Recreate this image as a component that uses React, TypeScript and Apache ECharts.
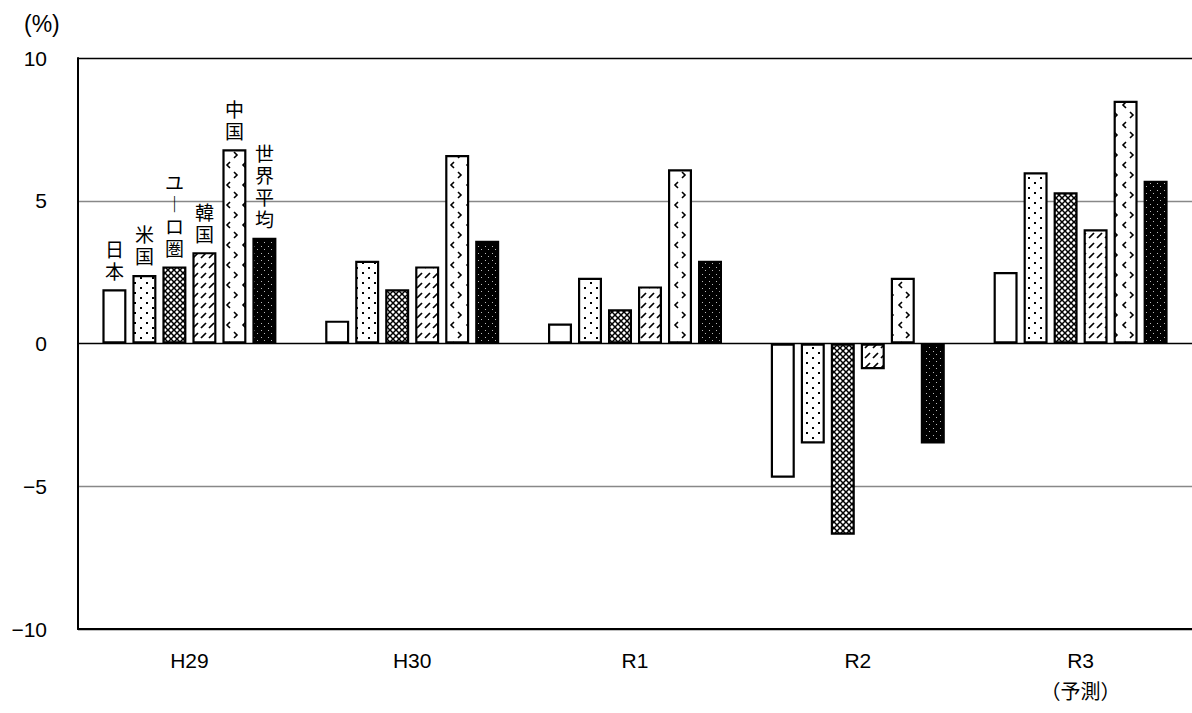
import React, { useEffect, useRef } from "react";
import * as echarts from "echarts";

const categories = ["H29", "H30", "R1", "R2", "R3"];
const seriesNames = ["日本", "米国", "ユーロ圏", "韓国", "中国", "世界平均"];
const japan = [1.9, 0.8, 0.7, -4.7, 2.5];
const usa = [2.4, 2.9, 2.3, -3.5, 6.0];
const euro = [2.7, 1.9, 1.2, -6.7, 5.3];
const korea = [3.2, 2.7, 2.0, -0.9, 4.0];
const china = [6.8, 6.6, 6.1, 2.3, 8.5];
const world = [3.7, 3.6, 2.9, -3.5, 5.7];
const verticalLabels = ["日\n本", "米\n国", "ユ\n︱\nロ\n圏", "韓\n国", "中\n国", "世\n界\n平\n均"];
const yTicks = [-10, -5, 0, 5, 10];

function pat(w: number, h: number, bg: string, draw: (ctx: CanvasRenderingContext2D) => void) {
  const c = document.createElement("canvas");
  c.width = w;
  c.height = h;
  const ctx = c.getContext("2d") as CanvasRenderingContext2D;
  ctx.fillStyle = bg;
  ctx.fillRect(0, 0, w, h);
  ctx.fillStyle = "#000";
  ctx.strokeStyle = "#000";
  draw(ctx);
  return { image: c, repeat: "repeat", imageWidth: w, imageHeight: h } as any;
}

export default function App() {
  const ref = useRef<HTMLDivElement>(null);
  useEffect(() => {
    document.body.style.margin = "0";
    if (!ref.current) return;
    const chart = echarts.init(ref.current, undefined, { renderer: "svg" });

    const fills = [
      "#fff",
      pat(12, 10, "#fff", (ctx) => {
        ctx.fillRect(2, 2, 2, 2);
        ctx.fillRect(8, 7, 2, 2);
      }),
      pat(6, 6, "#fff", (ctx) => {
        ctx.lineWidth = 1.5;
        ctx.beginPath();
        ctx.moveTo(-1, -1);
        ctx.lineTo(7, 7);
        ctx.moveTo(7, -1);
        ctx.lineTo(-1, 7);
        ctx.stroke();
      }),
      pat(8, 10, "#fff", (ctx) => {
        ctx.lineWidth = 1.7;
        ctx.beginPath();
        ctx.moveTo(1, 8);
        ctx.lineTo(6, 3);
        ctx.stroke();
      }),
      pat(16, 20, "#fff", (ctx) => {
        ctx.lineWidth = 1.6;
        ctx.beginPath();
        ctx.moveTo(6, 2);
        ctx.lineTo(3, 5);
        ctx.lineTo(6, 8);
        ctx.moveTo(10, 12);
        ctx.lineTo(13, 15);
        ctx.lineTo(10, 18);
        ctx.stroke();
      }),
      pat(7, 7, "#000", (ctx) => {
        ctx.fillStyle = "#bbb";
        ctx.fillRect(2, 1, 1, 1);
        ctx.fillRect(5, 4, 1, 1);
      }),
    ];

    const values = [japan, usa, euro, korea, china, world];

    const series = values.map((vals, si) => ({
      name: seriesNames[si],
      type: "bar",
      barWidth: 24,
      barGap: "25%",
      itemStyle: { color: fills[si], borderColor: "#000", borderWidth: 2.2 },
      data: vals.map((v, i) =>
        i === 0
          ? {
              value: v,
              label: {
                show: true,
                position: "top",
                distance: 8,
                formatter: verticalLabels[si],
                fontSize: 19,
                lineHeight: 22,
                color: "#000",
                fontFamily: "'Noto Sans CJK JP', sans-serif",
              },
            }
          : v
      ),
    }));

    chart.setOption({
      animation: false,
      backgroundColor: "#fff",
      textStyle: { fontFamily: "'Liberation Sans', 'Noto Sans CJK JP', sans-serif", color: "#000" },
      grid: { left: 78, right: -6, top: 58, bottom: 84, containLabel: false },
      xAxis: {
        type: "category",
        data: categories,
        axisLine: { onZero: false, lineStyle: { color: "#000", width: 2 } },
        axisTick: { show: false },
        axisLabel: {
          margin: 20,
          color: "#000",
          fontSize: 21,
          interval: 0,
          formatter: (v: string) => (v === "R3" ? "{a|R3}\n{b|（予測）}" : "{a|" + v + "}"),
          rich: {
            a: { fontSize: 21, lineHeight: 22, fontFamily: "'Liberation Sans', sans-serif", color: "#000" },
            b: { fontSize: 20, lineHeight: 38, fontFamily: "'Noto Sans CJK JP', sans-serif", color: "#000" },
          },
        },
        splitLine: { show: false },
      },
      yAxis: {
        type: "value",
        min: yTicks[0],
        max: yTicks[yTicks.length - 1],
        interval: 5,
        axisLine: { show: true, lineStyle: { color: "#000", width: 2 } },
        axisTick: { show: false },
        axisLabel: { margin: 31, color: "#000", fontSize: 21, formatter: (v: number) => (v < 0 ? "−" + Math.abs(v) : String(v)) },
        splitLine: { show: true, lineStyle: { color: ["#000", "#888", "#000", "#888", "#000"], width: 1.4 } },
      },
      graphic: [
        {
          type: "text",
          left: 24,
          top: 12,
          style: { text: "(%)", fontSize: 23, fill: "#000", fontFamily: "'Liberation Sans', sans-serif" },
        },
      ],
      series,
    });
    return () => chart.dispose();
  }, []);
  return <div ref={ref} style={{ width: 1192, height: 713 }} />;
}
